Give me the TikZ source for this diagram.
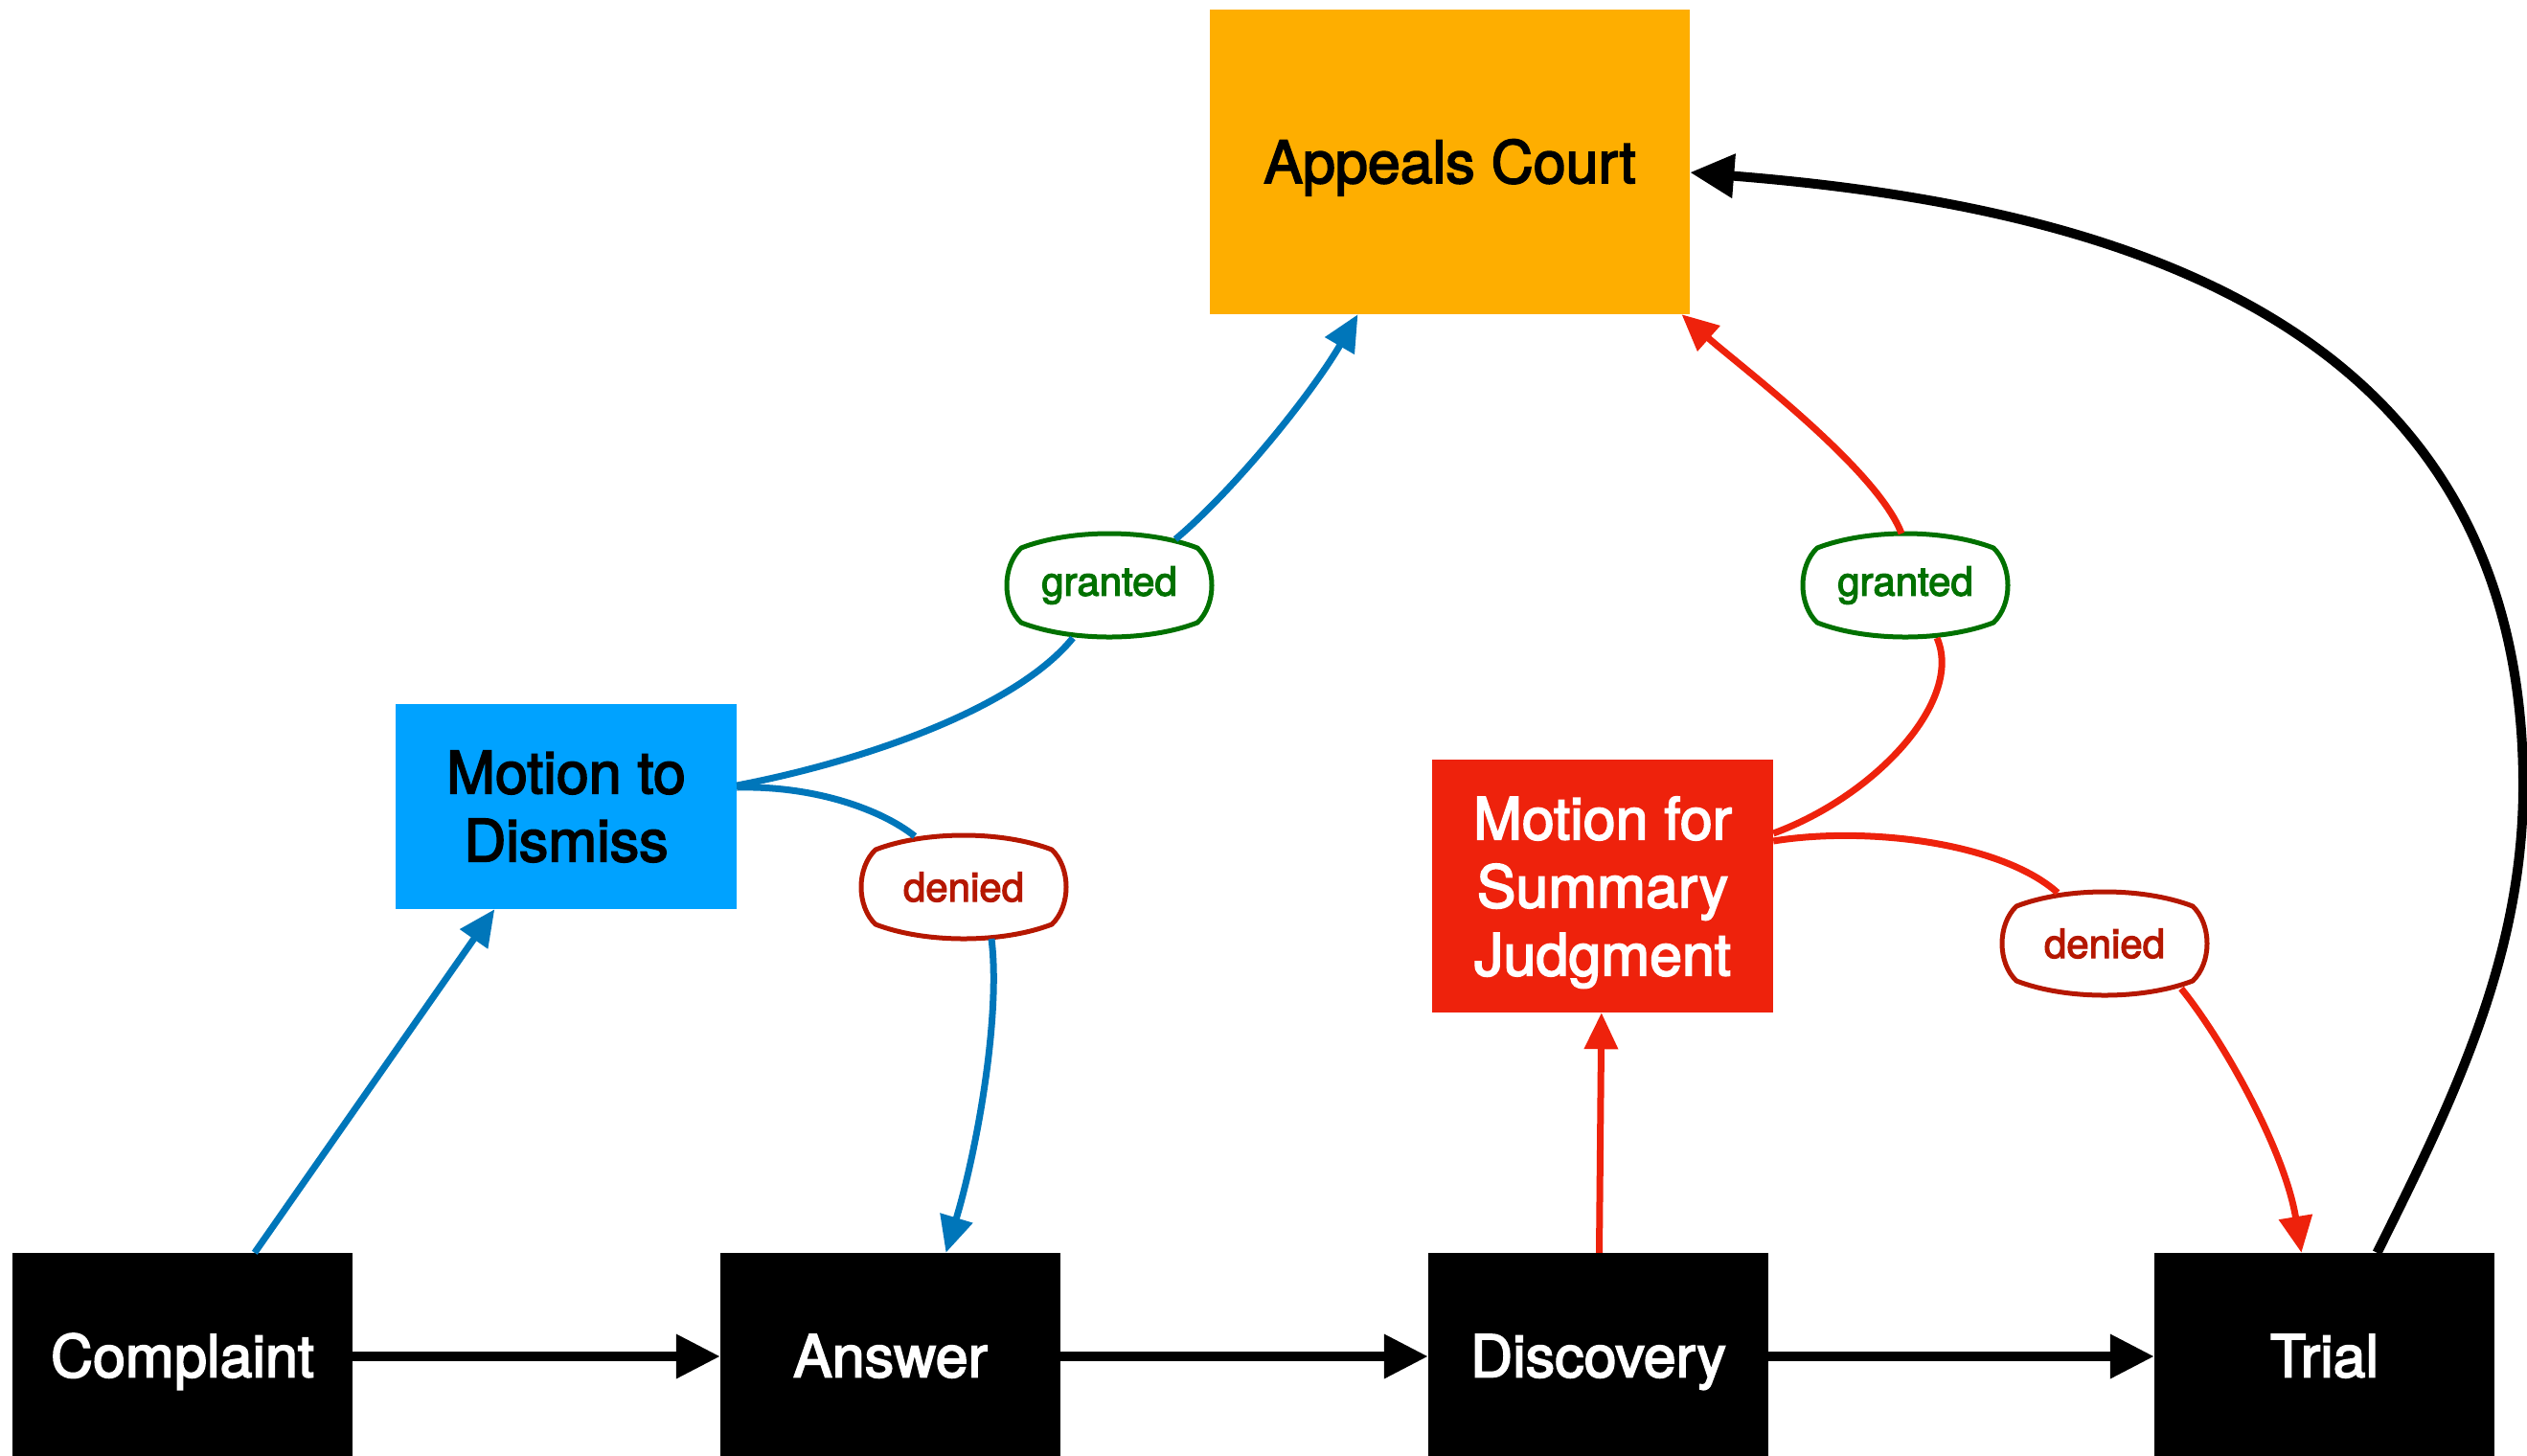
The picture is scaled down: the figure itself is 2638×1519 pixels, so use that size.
\documentclass[tikz,border=0pt]{standalone}
\usepackage{fontspec}
\setmainfont{TeX Gyre Heros}[FakeBold=2.8]
\usetikzlibrary{arrows.meta,calc}
\definecolor{orangeA}{RGB}{254,174,0}
\definecolor{blueBox}{RGB}{0,162,255}
\definecolor{redBox}{RGB}{238,34,12}
\definecolor{blueLine}{RGB}{0,118,186}
\definecolor{redLine}{RGB}{238,34,12}
\definecolor{greenLbl}{RGB}{1,113,0}
\definecolor{redLbl}{RGB}{181,23,0}
\newcommand\lblshape[4]{% name, x, y, color
  \draw[lblborder, draw=#4, shift={(#2,#3)}] (-92,-39) .. controls (-40,-59) and (40,-59) .. (92,-39)
     .. controls (112,-20) and (112,20) .. (92,39)
     .. controls (40,59) and (-40,59) .. (-92,39)
     .. controls (-112,20) and (-112,-20) .. cycle;
}
\begin{document}
\begin{tikzpicture}[x=1pt,y=-1pt,
  box/.style={rectangle, inner sep=0pt, align=center, font=\fontsize{61}{71}\selectfont},
  bottombox/.style={box, fill=black, text=white, minimum width=355pt, minimum height=216pt, text height=43pt, text depth=0pt},
  lbltext/.style={inner sep=0pt, font=\fontsize{42}{50}\selectfont},
  lblborder/.style={line width=5pt, fill=white, line join=round},
  blk/.style={line width=10pt, draw=black, -{Triangle[length=46pt,width=44pt]}},
  bluline/.style={line width=7pt, draw=blueLine},
  bluarrow/.style={bluline, -{Triangle[length=38pt,width=34pt]}},
  redline/.style={line width=7pt, draw=redLine},
  redarrow/.style={redline, -{Triangle[length=38pt,width=34pt]}}
]
\useasboundingbox (0,0) rectangle (2638,1519);

% boxes
\node[box, fill=orangeA, text=black, minimum width=501pt, minimum height=318pt, text height=44pt, text depth=0pt] (appeals) at (1513.5,169) {Appeals Court};
\node[box, fill=blueBox, text=black, minimum width=356pt, minimum height=214pt] (mtd) at (591,842) {Motion to\\Dismiss};
\node[box, fill=redBox, text=white, minimum width=356pt, minimum height=264pt, text depth=0pt] (msj) at (1673,925) {Motion for\\Summary\\Judgment};
\node[bottombox] (complaint) at (190.5,1416) {Complaint};
\node[bottombox] (answer) at (929.5,1416) {Answer};
\node[bottombox] (disc) at (1668.5,1416) {Discovery};
\node[bottombox] (trial) at (2426.5,1416) {Trial};

% labels
\lblshape{g1}{1158}{611}{greenLbl}
\node[lbltext, text=greenLbl] (g1) at (1158,611) {granted};
\lblshape{d1}{1006}{926}{redLbl}
\node[lbltext, text=redLbl] (d1) at (1006,926) {denied};
\lblshape{g2}{1989}{611}{greenLbl}
\node[lbltext, text=greenLbl] (g2) at (1989,611) {granted};
\lblshape{d2}{2197}{985}{redLbl}
\node[lbltext, text=redLbl] (d2) at (2197,985) {denied};

% main flow
\draw[blk] (complaint) -- (answer);
\draw[blk] (answer) -- (disc);
\draw[blk] (disc) -- (trial);
\draw[blk] ($(trial.north)+(55,0)$) .. controls (2560,1150) and (2634,1000) .. (2634,820)
   .. controls (2634,330) and (2200,215) .. ($(appeals.east)+(0,11)$);

% motion to dismiss
\draw[bluarrow] (complaint) -- (mtd);
\draw[bluline] ($(mtd.east)+(0,-22)$) .. controls (900,795) and (1060,740) .. ($(g1)+(-38,55)$);
\draw[bluarrow] ($(g1)+(69,-48)$) .. controls (1290,510) and (1370,410) .. ($(appeals.south)+(-96,0)$);
\draw[bluline] ($(mtd.east)+(0,-20)$) .. controls (850,820) and (920,845) .. ($(d1)+(-51,-53)$);
\draw[bluarrow] ($(d1)+(29,54)$) .. controls (1045,1060) and (1020,1200) .. ($(answer.north)+(58,0)$);

% summary judgment
\draw[redarrow] (disc) -- (msj);
\draw[redline] ($(msj.east)+(0,-55)$) .. controls (1960,830) and (2050,730) .. ($(g2)+(33,55)$);
\draw[redarrow] ($(g2)+(-4,-54)$) .. controls (1960,490) and (1815,381) .. ($(appeals.south)+(242,0)$);
\draw[redline] ($(msj.east)+(0,-47)$) .. controls (1950,862) and (2090,880) .. ($(d2)+(-49,-53)$);
\draw[redarrow] ($(d2)+(80,47)$) .. controls (2320,1085) and (2385,1200) .. ($(trial.north)+(-24,0)$);
\end{tikzpicture}
\end{document}
